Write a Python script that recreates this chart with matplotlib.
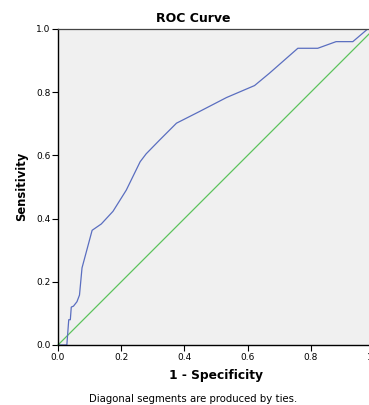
import numpy as np
import matplotlib
matplotlib.use('Agg')
import matplotlib.pyplot as plt

''' Data read off the reference ROC chart '''
fpr = [0.0, 0.028, 0.034, 0.039, 0.042, 0.049, 0.060, 0.068, 0.076, 0.108,
       0.137, 0.174, 0.216, 0.260, 0.279, 0.322, 0.375, 0.448, 0.533, 0.622,
       0.669, 0.759, 0.822, 0.880, 0.933, 0.980, 1.0]
tpr = [0.0, 0.0, 0.08, 0.08, 0.12, 0.123, 0.137, 0.158, 0.244, 0.363,
       0.383, 0.423, 0.49, 0.58, 0.605, 0.649, 0.702, 0.739, 0.783, 0.821,
       0.86, 0.939, 0.939, 0.96, 0.96, 1.0, 1.0]
ref_line = [0.0, 1.0]
ticks = [0.0, 0.2, 0.4, 0.6, 0.8, 1.0]

''' Graphing '''
W, H = 369, 405
fig = plt.figure(figsize=(W / 100, H / 100), dpi=100)

# axes run a bit past the right edge of the picture, like the reference
ax = fig.add_axes([58 / W, (H - 345) / H, 316 / W, 316 / H])
ax.set_facecolor('#f0f0f0')

ax.plot(ref_line, ref_line, color='#5cc35c', lw=0.9, clip_on=False)
ax.plot(fpr, tpr, color='#5a6ec0', lw=0.9)

ax.set_xlim(0, 1)
ax.set_ylim(0, 1)
ax.set_xticks(ticks)
ax.set_yticks(ticks)
ax.set_xticklabels([f'{t:.1f}' for t in ticks])
ax.set_yticklabels([f'{t:.1f}' for t in ticks])
ax.tick_params(axis='both', direction='out', length=4, width=0.8,
               labelsize=6.5, pad=1.5, color='black')

for side in ['left', 'bottom']:
    ax.spines[side].set_color('black')
    ax.spines[side].set_linewidth(1.0)
ax.spines['top'].set_color('#444444')
ax.spines['top'].set_linewidth(0.9)
ax.spines['right'].set_visible(False)

# Labels and title
fig.text(193 / W, 1 - 18 / H, 'ROC Curve', ha='center', va='center',
         fontsize=9, fontweight='bold')
fig.text(216 / W, 1 - 375 / H, '1 - Specificity', ha='center', va='center',
         fontsize=8.8, fontweight='bold')
fig.text(22 / W, 1 - 186 / H, 'Sensitivity', ha='center', va='center',
         rotation=90, fontsize=8.3, fontweight='bold')
fig.text(193 / W, 1 - 399 / H, 'Diagonal segments are produced by ties.',
         ha='center', va='center', fontsize=7.3)

fig.savefig('out.png', dpi=100)
